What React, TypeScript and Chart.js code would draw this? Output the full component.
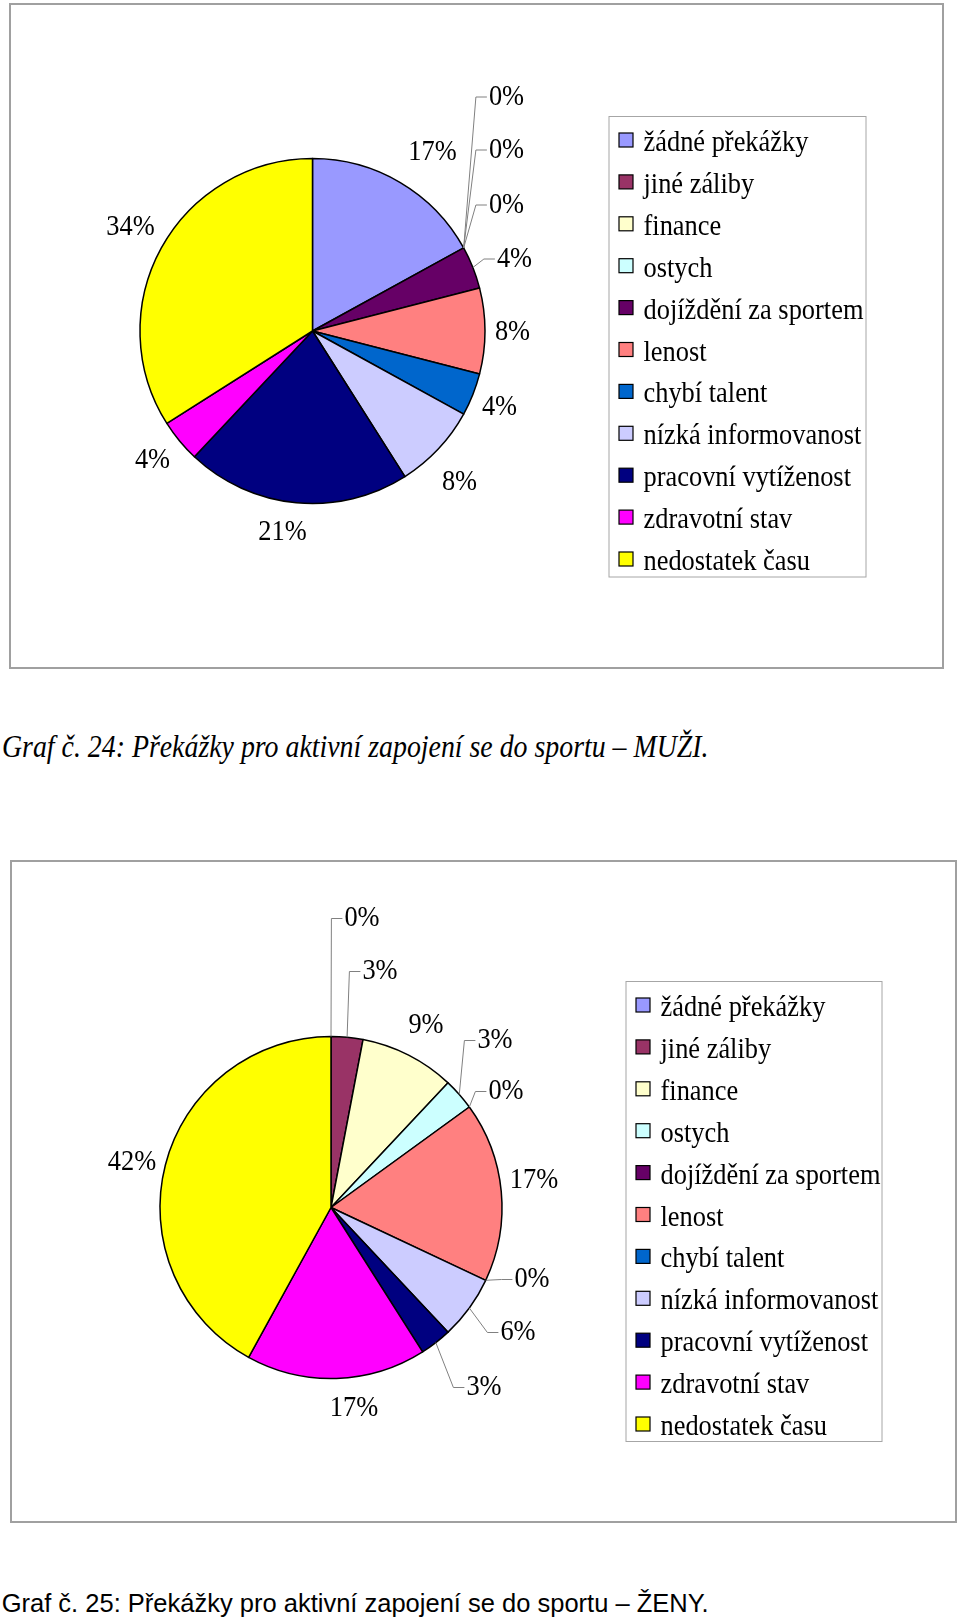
import React, { useEffect, useRef } from "react";
import { Chart, registerables } from "chart.js";

Chart.register(...registerables);

// ---------- data ----------
const categories = [
  "žádné překážky",
  "jiné záliby",
  "finance",
  "ostych",
  "dojíždění za sportem",
  "lenost",
  "chybí talent",
  "nízká informovanost",
  "pracovní vytíženost",
  "zdravotní stav",
  "nedostatek času",
];
const valuesMuzi = [17, 0, 0, 0, 4, 8, 4, 8, 21, 4, 34];
const valuesZeny = [0, 3, 9, 3, 0, 17, 0, 6, 3, 17, 42];
const sliceColors = [
  "#9999FF",
  "#993366",
  "#FFFFCC",
  "#CCFFFF",
  "#660066",
  "#FF8080",
  "#0066CC",
  "#CCCCFF",
  "#000080",
  "#FF00FF",
  "#FFFF00",
];
const captionMuzi = "Graf č. 24: Překážky pro aktivní zapojení se do sportu – MUŽI.";
const captionZeny = "Graf č. 25: Překážky pro aktivní zapojení se do sportu – ŽENY.";

// ---------- label placement (offset of label centre from pie centre) ----------
const labelOffsetsMuzi = [
  [120, -179], [194, -234], [194, -181], [194, -126], [202, -72], [200, 1],
  [187, 76], [147, 151], [-30, 201], [-160, 129], [-182, -104],
];
const leadersMuzi = [false, true, true, true, true, false, false, false, false, false, false];
const labelOffsetsZeny = [
  [31, -289], [49, -236], [95, -182], [164, -167], [175, -116], [203, -27],
  [201, 72], [187, 125], [153, 180], [23, 201], [-199, -45],
];
const leadersZeny = [true, true, false, true, true, false, true, true, true, false, false];

// ---------- styles ----------
const SERIF = "30px 'Liberation Serif', 'Times New Roman', serif";
const SX = 0.88;

type Geom = {
  top: number;
  height: number;
  cx: number;
  cy: number;
  r: number;
  legend: { left: number; top: number; right: number; bottom: number };
};

const geomMuzi: Geom = {
  top: 0,
  height: 700,
  cx: 312.5,
  cy: 331,
  r: 172.5,
  legend: { left: 608.5, top: 116, right: 865.5, bottom: 576.5 },
};
const geomZeny: Geom = {
  top: 840,
  height: 720,
  cx: 331,
  cy: 1207.5,
  r: 171,
  legend: { left: 625.5, top: 981, right: 881.5, bottom: 1441 },
};

function PieFigure(props: {
  values: number[];
  labelOffsets: number[][];
  leaders: boolean[];
  geom: Geom;
}) {
  const { values, labelOffsets, leaders, geom } = props;
  const ref = useRef<HTMLCanvasElement | null>(null);

  useEffect(() => {
    const canvas = ref.current;
    if (!canvas) return;
    const half = geom.r + 2;
    const padding = {
      left: geom.cx - half,
      right: 960 - geom.cx - half,
      top: geom.cy - geom.top - half,
      bottom: geom.top + geom.height - geom.cy - half,
    };

    const decor = {
      id: "excelDecor",
      afterDraw(chart: any) {
        const ctx: CanvasRenderingContext2D = chart.ctx;
        const meta = chart.getDatasetMeta(0);
        ctx.save();
        ctx.font = SERIF;

        // data labels + leader lines
        meta.data.forEach((arc: any, i: number) => {
          const p = arc.getProps(["x", "y", "startAngle", "endAngle", "outerRadius"], true);
          const text = `${values[i]}%`;
          const lx = p.x + labelOffsets[i][0];
          const ly = p.y + labelOffsets[i][1];
          const w = ctx.measureText(text).width * SX;
          if (leaders[i]) {
            const a = (p.startAngle + p.endAngle) / 2;
            const ax = p.x + p.outerRadius * Math.cos(a);
            const ay = p.y + p.outerRadius * Math.sin(a);
            const left = lx - w / 2;
            ctx.beginPath();
            ctx.moveTo(ax, ay);
            ctx.lineTo(left - 13, ly);
            ctx.lineTo(left - 2, ly);
            ctx.strokeStyle = "#808080";
            ctx.lineWidth = 1;
            ctx.stroke();
          }
          ctx.save();
          ctx.translate(lx, ly);
          ctx.scale(SX, 1);
          ctx.textAlign = "center";
          ctx.textBaseline = "middle";
          ctx.fillStyle = "#000";
          ctx.fillText(text, 0, 0);
          ctx.restore();
        });

        // legend
        const lg = geom.legend;
        const top = lg.top - geom.top;
        ctx.strokeStyle = "#a6a6a6";
        ctx.lineWidth = 1;
        ctx.strokeRect(lg.left + 0.5, top + 0.5, lg.right - lg.left, lg.bottom - lg.top);
        const step = 41.9;
        categories.forEach((name, i) => {
          const cyItem = top + 24 + i * step;
          const sx = lg.left + 10.5;
          ctx.fillStyle = sliceColors[i];
          ctx.fillRect(sx, cyItem - 7, 14, 14);
          ctx.strokeStyle = "#000";
          ctx.lineWidth = 1.2;
          ctx.strokeRect(sx, cyItem - 7, 14, 14);
          ctx.save();
          ctx.translate(lg.left + 35, cyItem + 11);
          ctx.scale(SX, 1);
          ctx.textAlign = "left";
          ctx.textBaseline = "alphabetic";
          ctx.fillStyle = "#000";
          ctx.fillText(name, 0, 0);
          ctx.restore();
        });
        ctx.restore();
      },
    };

    const chart = new Chart(canvas, {
      type: "pie",
      data: {
        labels: categories,
        datasets: [
          {
            data: values,
            backgroundColor: sliceColors,
            borderColor: "#000000",
            borderWidth: 1.5,
            borderJoinStyle: "round",
            hoverOffset: 0,
            offset: 0,
            radius: geom.r,
          } as any,
        ],
      },
      options: {
        responsive: false,
        animation: false,
        events: [],
        radius: geom.r,
        layout: { padding },
        plugins: {
          legend: { display: false },
          tooltip: { enabled: false },
        },
      } as any,
      plugins: [decor],
    });
    return () => chart.destroy();
  }, []);

  return (
    <canvas
      ref={ref}
      width={960}
      height={geom.height}
      style={{
        position: "absolute",
        left: 0,
        top: geom.top,
        width: 960,
        height: geom.height,
      }}
    />
  );
}

export default function App() {
  useEffect(() => {
    document.body.style.margin = "0";
  }, []);
  if (typeof document !== "undefined") document.body.style.margin = "0";

  return (
    <div
      style={{
        position: "relative",
        width: 960,
        height: 1621,
        overflow: "hidden",
        background: "#fff",
      }}
    >
      <div
        style={{
          position: "absolute",
          left: 9,
          top: 3,
          width: 935,
          height: 666,
          border: "2px solid #a0a0a0",
          boxSizing: "border-box",
        }}
      />
      <div
        style={{
          position: "absolute",
          left: 10,
          top: 860,
          width: 947,
          height: 663,
          border: "2px solid #a0a0a0",
          boxSizing: "border-box",
        }}
      />
      <PieFigure values={valuesMuzi} labelOffsets={labelOffsetsMuzi} leaders={leadersMuzi} geom={geomMuzi} />
      <PieFigure values={valuesZeny} labelOffsets={labelOffsetsZeny} leaders={leadersZeny} geom={geomZeny} />
      <div
        style={{
          position: "absolute",
          left: 1.7,
          top: 730,
          font: "italic 32px 'Liberation Serif', 'Times New Roman', serif",
          lineHeight: "32px",
          whiteSpace: "nowrap",
          transform: "scaleX(0.87)",
          transformOrigin: "left top",
          color: "#000",
        }}
      >
        {captionMuzi}
      </div>
      <div
        style={{
          position: "absolute",
          left: 1.7,
          top: 1591,
          font: "25.5px 'Liberation Sans', Arial, sans-serif",
          lineHeight: "25.5px",
          whiteSpace: "nowrap",
          color: "#000",
        }}
      >
        {captionZeny}
      </div>
    </div>
  );
}
